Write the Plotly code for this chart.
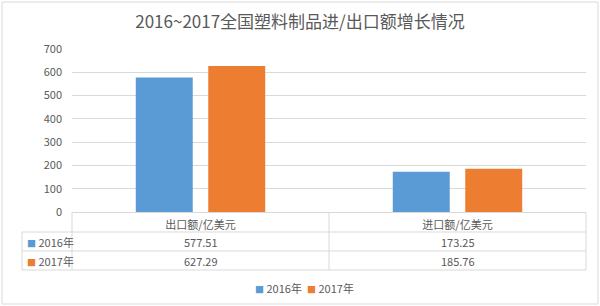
import plotly.graph_objects as go

categories = ["出口额/亿美元", "进口额/亿美元"]
series_names = ["2016年", "2017年"]
values_2016 = [577.51, 173.25]
values_2017 = [627.29, 185.76]
colors = ["#5B9BD5", "#ED7D31"]
title_text = "2016~2017全国塑料制品进/出口额增长情况"

W, H = 600, 306
L, R, T, B = 72, 14, 49, 94
pw, ph = W - L - R, H - T - B

def py(ypix):
    return (H - B - ypix) / ph

def px(xpix):
    return (xpix - L) / pw

font = "Noto Sans CJK SC, Microsoft YaHei, sans-serif"
grey = "#595959"
line_c = "#D9D9D9"

fig = go.Figure()
for name, vals, c in zip(series_names, [values_2016, values_2017], colors):
    fig.add_trace(go.Bar(x=categories, y=vals, name=name, marker_color=c,
                         marker_line_width=0, showlegend=False))

shapes = []
# outer border
shapes.append(dict(type="rect", xref="paper", yref="paper",
                   x0=px(2), x1=px(598), y0=py(304), y1=py(2),
                   line=dict(color=line_c, width=1)))
# table horizontal lines
for yy, x0 in [(232, 22), (251, 22), (270, 22)]:
    shapes.append(dict(type="line", xref="paper", yref="paper",
                       x0=px(x0), x1=px(586), y0=py(yy), y1=py(yy),
                       line=dict(color=line_c, width=1)))
# verticals
for xx, y0 in [(22, 232), (72, 212), (329, 212), (586, 212)]:
    shapes.append(dict(type="line", xref="paper", yref="paper",
                       x0=px(xx), x1=px(xx), y0=py(y0), y1=py(270),
                       line=dict(color=line_c, width=1)))

annotations = []
rows_y = [242, 261]
for vals, yy in zip([values_2016, values_2017], rows_y):
    for cat, v in zip(categories, vals):
        annotations.append(dict(x=cat, y=py(yy), xref="x", yref="paper",
                                xanchor="center", yanchor="middle",
                                text=f"{v:.2f}", showarrow=False,
                                font=dict(family=font, size=11, color=grey)))
for name, c, yy in zip(series_names, colors, rows_y):
    annotations.append(dict(x=px(25), y=py(yy), xref="paper", yref="paper",
                            xanchor="left", yanchor="middle", showarrow=False,
                            text=f"<span style='color:{c};font-size:9px'>■</span> {name}",
                            font=dict(family=font, size=11, color=grey)))
# bottom legend
for name, c, xx in zip(series_names, colors, [253, 305]):
    annotations.append(dict(x=px(xx), y=py(288), xref="paper", yref="paper",
                            xanchor="left", yanchor="middle", showarrow=False,
                            text=f"<span style='color:{c};font-size:9px'>■</span> {name}",
                            font=dict(family=font, size=11, color=grey)))

fig.update_layout(
    width=W, height=H,
    margin=dict(l=L, r=R, t=T, b=B, autoexpand=False),
    paper_bgcolor="white", plot_bgcolor="white",
    title=dict(text=title_text, x=0.5, xref="container", xanchor="center",
               y=1 - 22 / H, yref="container", yanchor="middle",
               font=dict(family=font, size=17, color=grey)),
    barmode="group", bargap=0.436, bargroupgap=0.214,
    xaxis=dict(showgrid=False, showline=True, linecolor=line_c,
               ticks="", ticklabelstandoff=3,
               tickfont=dict(family=font, size=11, color=grey)),
    yaxis=dict(range=[0, 700], dtick=100, showgrid=True, gridcolor=line_c,
               zeroline=False, ticks="", showline=False, ticklabelstandoff=9,
               tickfont=dict(family=font, size=11, color=grey)),
    showlegend=False,
    shapes=shapes, annotations=annotations,
)

fig.write_html("out.html")
